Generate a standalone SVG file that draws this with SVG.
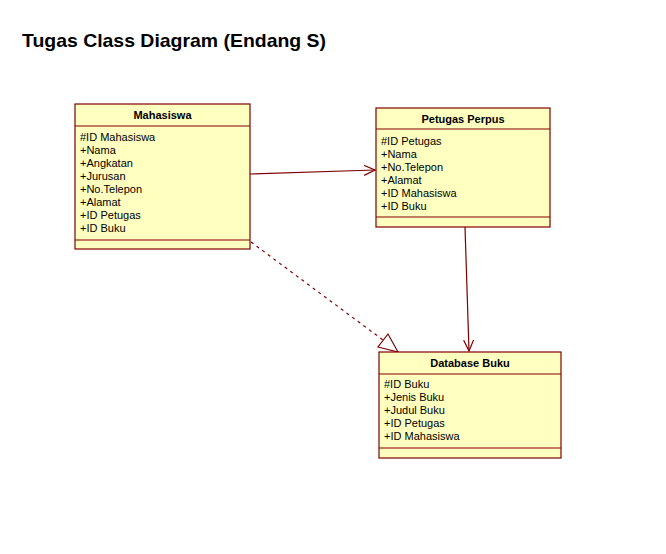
<svg xmlns="http://www.w3.org/2000/svg" width="666" height="554" viewBox="0 0 666 554">
<style>
.box{fill:#FFFFC0;stroke:#800000;stroke-width:1.2}
.sep{stroke:#800000;stroke-width:1.2}
.t{font-family:"Liberation Sans",Arial,sans-serif;font-size:11px;fill:#000}
.h{font-family:"Liberation Sans",Arial,sans-serif;font-size:11px;font-weight:bold;fill:#000;text-anchor:middle}
.ln{stroke:#800000;stroke-width:1.2;fill:none}
</style>
<defs>
<marker id="open" viewBox="0 0 12 12" refX="11" refY="6" markerWidth="12" markerHeight="12" markerUnits="userSpaceOnUse" orient="auto">
<path d="M0,1 L11,6 L0,11" fill="none" stroke="#800000" stroke-width="1.2"/>
</marker>
</defs>
<rect width="666" height="554" fill="#fff"/>
<text x="22" y="47" font-family="Liberation Sans,Arial,sans-serif" font-size="19" font-weight="bold" fill="#000" textLength="304" lengthAdjust="spacingAndGlyphs">Tugas Class Diagram (Endang S)</text>
<g id="connectors">
<line class="ln" x1="250" y1="174" x2="375" y2="170" marker-end="url(#open)"/>
<line class="ln" x1="465" y1="227" x2="469" y2="351" marker-end="url(#open)"/>
<line class="ln" x1="251" y1="242" x2="383" y2="340" stroke-dasharray="3,4"/>
<polygon points="388,334 378,347 398,352" fill="#fff" stroke="#800000" stroke-width="1.2"/>
</g>
<g id="mahasiswa">
<rect class="box" x="75" y="104" width="175" height="145"/>
<line class="sep" x1="75" y1="126" x2="250" y2="126"/>
<line class="sep" x1="75" y1="240" x2="250" y2="240"/>
<text class="h" x="162.5" y="119">Mahasiswa</text>
<text class="t" x="80" y="141">#ID Mahasiswa</text>
<text class="t" x="80" y="154">+Nama</text>
<text class="t" x="80" y="167">+Angkatan</text>
<text class="t" x="80" y="180">+Jurusan</text>
<text class="t" x="80" y="193">+No.Telepon</text>
<text class="t" x="80" y="206">+Alamat</text>
<text class="t" x="80" y="219">+ID Petugas</text>
<text class="t" x="80" y="232">+ID Buku</text>
</g>
<g id="petugas">
<rect class="box" x="376" y="108" width="174" height="119"/>
<line class="sep" x1="376" y1="129" x2="550" y2="129"/>
<line class="sep" x1="376" y1="217" x2="550" y2="217"/>
<text class="h" x="463" y="123">Petugas Perpus</text>
<text class="t" x="381" y="145">#ID Petugas</text>
<text class="t" x="381" y="158">+Nama</text>
<text class="t" x="381" y="171">+No.Telepon</text>
<text class="t" x="381" y="184">+Alamat</text>
<text class="t" x="381" y="197">+ID Mahasiswa</text>
<text class="t" x="381" y="210">+ID Buku</text>
</g>
<g id="database">
<rect class="box" x="379" y="352" width="182" height="106"/>
<line class="sep" x1="379" y1="374" x2="561" y2="374"/>
<line class="sep" x1="379" y1="448" x2="561" y2="448"/>
<text class="h" x="470" y="367">Database Buku</text>
<text class="t" x="384" y="388">#ID Buku</text>
<text class="t" x="384" y="401">+Jenis Buku</text>
<text class="t" x="384" y="414">+Judul Buku</text>
<text class="t" x="384" y="427">+ID Petugas</text>
<text class="t" x="384" y="440">+ID Mahasiswa</text>
</g>
</svg>
